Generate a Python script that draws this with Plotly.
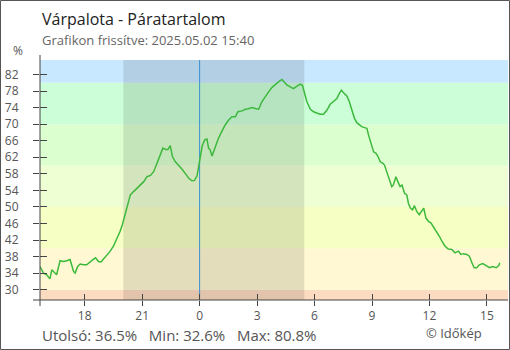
import plotly.graph_objects as go
from datetime import datetime, timedelta

# Relative humidity readings, 2025-05-01 15:40 -> 2025-05-02 15:40 (local time)
times = ["15:40","15:51","16:01","16:09","16:11","16:17","16:27","16:32","16:43","16:53",
         "17:04","17:14","17:19","17:25","17:30","17:38","17:46","17:56","18:06","18:17",
         "18:27","18:34","18:43","18:51","18:59","19:09","19:20","19:30","19:40","19:51",
         "19:58","20:07","20:13","20:23","20:33","20:44","20:54","21:05","21:15","21:26",
         "21:36","21:47","21:57","22:05","22:13","22:21","22:28","22:35","22:44","22:54",
         "23:05","23:15","23:26","23:36","23:44","23:52","23:57","00:02","00:08","00:16",
         "00:23","00:28","00:33","00:39","00:44","00:51","00:59","01:10","01:20","01:31",
         "01:41","01:52","02:00","02:13","02:23","02:33","02:44","02:54","03:05","03:15",
         "03:26","03:36","03:47","03:57","04:07","04:18","04:26","04:34","04:44","04:54",
         "05:05","05:15","05:22","05:29","05:36","05:47","05:57","06:07","06:18","06:28",
         "06:39","06:49","06:59","07:10","07:17","07:24","07:31","07:41","07:49","07:57",
         "08:05","08:13","08:18","08:28","08:39","08:44","08:49","08:54","09:00","09:05",
         "09:12","09:18","09:26","09:33","09:39","09:43","09:50","09:57","10:02","10:07",
         "10:15","10:21","10:28","10:34","10:42","10:49","10:54","11:00","11:07","11:13",
         "11:20","11:28","11:36","11:42","11:49","11:57","12:05","12:12","12:23","12:31",
         "12:39","12:49","12:59","13:10","13:20","13:31","13:38","13:46","13:57","14:05",
         "14:13","14:20","14:28","14:36","14:47","14:57","15:08","15:18","15:29","15:37",
         "15:40"]

humidity = [35.6,34.0,33.6,32.7,32.6,34.8,34.0,33.6,37.0,36.8,
            37.0,37.3,36.0,34.4,34.0,35.6,36.2,36.0,36.0,36.8,
            37.3,37.7,36.8,36.7,37.4,38.5,39.3,40.5,42.1,44.1,
            45.7,48.5,50.5,52.9,53.7,54.5,55.3,56.1,57.3,57.6,
            58.5,60.6,62.6,64.2,63.9,63.9,64.8,62.1,60.9,60.1,
            59.1,58.1,56.9,56.3,56.4,57.5,59.9,62.6,64.7,66.2,
            66.4,64.2,63.8,62.3,63.3,64.7,66.6,68.3,69.8,71.0,
            71.8,71.8,73.0,73.2,73.6,73.7,74.0,73.8,73.6,75.4,
            76.8,77.8,78.9,79.6,80.2,80.8,80.0,79.4,79.0,78.6,
            79.2,79.7,79.4,77.4,75.4,73.6,73.0,72.7,72.4,72.4,
            73.4,74.8,75.4,76.2,77.3,78.2,77.6,76.8,75.4,73.4,
            71.4,70.3,70.0,69.4,69.1,69.0,67.4,66.2,64.6,63.3,
            63.0,62.3,60.9,60.6,60.1,59.1,57.3,55.7,54.9,55.3,
            57.3,56.1,54.9,55.3,53.3,52.9,50.9,49.7,49.3,50.3,
            48.9,48.1,48.9,49.7,47.3,46.5,46.1,45.3,44.1,42.9,
            41.7,40.5,39.8,39.7,38.9,39.3,38.5,38.7,38.5,38.1,
            36.5,35.3,35.3,36.0,36.3,35.8,35.3,35.6,35.3,35.8,
            36.5]

assert len(times) == len(humidity)

# Humidity bands drawn behind the curve
band_edges = [27.5, 30, 40, 50, 60, 70, 80, 85.5]
band_colors = ["#fcdcc0", "#fff8d2", "#f6ffc4", "#eeffd4", "#dcffd0", "#ccffd8", "#c8e8ff"]

y_ticks = list(range(30, 83, 4))
x_ticks = ["2025-05-01 18:00", "2025-05-01 21:00", "2025-05-02 00:00", "2025-05-02 03:00",
           "2025-05-02 06:00", "2025-05-02 09:00", "2025-05-02 12:00", "2025-05-02 15:00"]
x_tick_text = ["18", "21", "0", "3", "6", "9", "12", "15"]
x_range = ["2025-05-01 15:40", "2025-05-02 16:06"]
sunset, sunrise = "2025-05-01 20:01", "2025-05-02 05:28"
midnight = "2025-05-02 00:00"
updated = "2025.05.02 15:40"

# Build timestamps, rolling over to the next day after midnight
stamps = []
day = datetime(2025, 5, 1)
prev = None
for t in times:
    h, m = map(int, t.split(":"))
    if prev is not None and (h, m) < prev:
        day += timedelta(days=1)
    prev = (h, m)
    stamps.append(day.replace(hour=h, minute=m))

W, H = 510, 350
ML, MR, MT, MB = 40, 2, 60, 50
PW, PH = W - ML - MR, H - MT - MB

def px_x(px):
    return (px - ML) / PW

def px_y(py):
    return 1 - (py - MT) / PH

FONT = "Open Sans"
AXIS = "#444444"
TXT = "#555555"

fig = go.Figure()
fig.add_trace(go.Scatter(x=stamps, y=humidity, mode="lines",
                         line=dict(color="#3cb93c", width=1.5),
                         hoverinfo="skip", showlegend=False))
# empty trace bound to the overlay axes (inward tick marks)
fig.add_trace(go.Scatter(x=[], y=[], xaxis="x2", yaxis="y2", showlegend=False))

shapes = []
for lo, hi, col in zip(band_edges[:-1], band_edges[1:], band_colors):
    shapes.append(dict(type="rect", xref="paper", yref="y", x0=0, x1=1, y0=lo, y1=hi,
                       fillcolor=col, line_width=0, layer="below"))
shapes.append(dict(type="rect", xref="x", yref="paper", x0=sunset, x1=sunrise, y0=0, y1=1,
                   fillcolor="rgba(0,0,0,0.105)", line_width=0, layer="below"))
shapes.append(dict(type="line", xref="x", yref="paper", x0=midnight, x1=midnight, y0=0, y1=1,
                   line=dict(color="#3a8fd0", width=1), layer="below"))
# axis lines, extended slightly past the corner
shapes.append(dict(type="line", xref="paper", yref="paper", x0=0, x1=0,
                   y0=px_y(306), y1=px_y(55), line=dict(color=AXIS, width=1)))
shapes.append(dict(type="line", xref="paper", yref="paper", x0=px_x(33), x1=1,
                   y0=0, y1=0, line=dict(color=AXIS, width=1)))
# outer frame
shapes.append(dict(type="rect", xref="paper", yref="paper",
                   x0=px_x(0.5), x1=px_x(W - 0.5), y0=px_y(H - 0.5), y1=px_y(0.5),
                   line=dict(color="#555555", width=1), fillcolor="rgba(0,0,0,0)"))

stats = (f"Utolsó: {humidity[-1]}%\u00a0\u00a0 Min: {min(humidity)}%"
         f"\u00a0\u00a0 Max: {max(humidity)}%")

annotations = [
    dict(text="Várpalota - Páratartalom", x=px_x(40), y=px_y(19), xanchor="left",
         yanchor="middle", font=dict(size=16, color="#222222")),
    dict(text=f"Grafikon frissítve: {updated}", x=px_x(40), y=px_y(40), xanchor="left",
         yanchor="middle", font=dict(size=13, color="#666666")),
    dict(text="%", x=px_x(17.5), y=px_y(51), xanchor="center", yanchor="middle",
         font=dict(size=12, color=TXT)),
    dict(text=stats, x=px_x(39.5), y=px_y(334.5), xanchor="left", yanchor="middle",
         font=dict(size=15, color=TXT)),
    dict(text="© Időkép", x=px_x(424), y=px_y(333), xanchor="left", yanchor="middle",
         font=dict(size=13, color=TXT)),
]
for a in annotations:
    a.update(xref="paper", yref="paper", showarrow=False)

common_x = dict(type="date", range=x_range, tickvals=x_ticks, showgrid=False,
                zeroline=False, showline=False, tickcolor=AXIS, tickwidth=1, fixedrange=True)
common_y = dict(range=[band_edges[0], band_edges[-1]], tickvals=y_ticks, showgrid=False,
                zeroline=False, showline=False, tickcolor=AXIS, tickwidth=1, fixedrange=True)

fig.update_layout(
    width=W, height=H,
    margin=dict(l=ML, r=MR, t=MT, b=MB, pad=0),
    paper_bgcolor="white", plot_bgcolor="white",
    font=dict(family=FONT, color=TXT),
    xaxis=dict(**common_x, ticktext=x_tick_text, ticks="outside", ticklen=5,
               tickfont=dict(size=12, color=TXT)),
    yaxis=dict(**common_y, ticks="outside", ticklen=6,
               tickfont=dict(size=12, color=TXT), ticklabelstandoff=12),
    xaxis2=dict(**common_x, overlaying="x", anchor="y", side="bottom", ticks="inside",
                ticklen=6, showticklabels=False),
    yaxis2=dict(**common_y, overlaying="y", anchor="x", side="left", ticks="inside",
                ticklen=7, showticklabels=False),
    shapes=shapes,
    annotations=annotations,
    showlegend=False,
)

fig.write_html("out.html")
